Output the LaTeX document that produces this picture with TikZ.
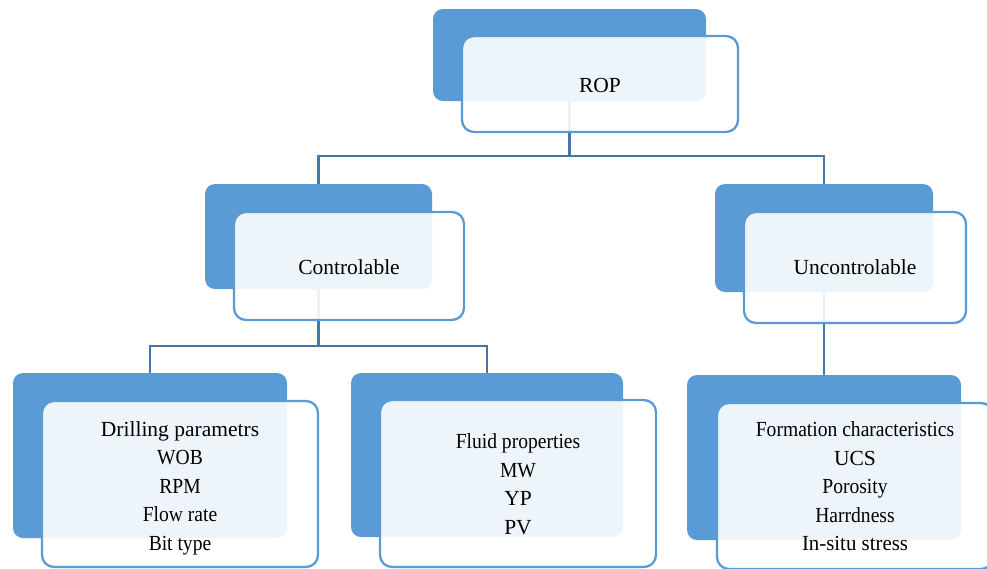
\documentclass[tikz,border=0pt]{standalone}
\usepackage{fontspec}
\setmainfont{Liberation Serif}
\definecolor{boxblue}{RGB}{91,155,213}
\definecolor{linkblue}{RGB}{68,118,168}
% slightly condensed lines for the list boxes
\newcommand{\narrowtxt}[1]{\scalebox{0.91}[1]{#1}}
\tikzset{
  backbox/.style={draw=none, fill=boxblue, rounded corners=10pt,
    inner sep=0pt, minimum width=#1},
  frontbox/.style={draw=boxblue, line width=2.3pt, fill=white, fill opacity=0.9,
    rounded corners=12pt, inner sep=0pt},
  boxtext/.style={inner sep=0pt, align=center,
    font=\fontsize{21.5}{28.5}\selectfont},
  link/.style={draw=linkblue, line width=2.8pt}
}
\begin{document}
\begin{tikzpicture}[x=1pt,y=-1pt]
  \useasboundingbox (0,0) rectangle (987,568);
  \clip (0,0) rectangle (987,568);
  \fill[white] (0,0) rectangle (987,568);

  % back (solid) panels
  \node[backbox=273pt, minimum height=92pt]  (ropb)   at (569.5,55)  {};
  \node[backbox=227pt, minimum height=105pt] (ctlb)   at (318.5,236.5) {};
  \node[backbox=218pt, minimum height=108pt] (unctlb) at (824,238)   {};
  \node[backbox=274pt, minimum height=165pt] (drilb)  at (150,455.5) {};
  \node[backbox=272pt, minimum height=164pt] (fluib)  at (487,455)   {};
  \node[backbox=274pt, minimum height=165pt] (formb)  at (824,457.5) {};

  % tree connectors
  \coordinate (j1) at (569.5,156);
  \coordinate (j2) at (318.5,346);
  \draw[link] (ropb.south) -- (j1) -| (ctlb.north);
  \draw[link] (j1) -| (unctlb.north);
  \draw[link] (ctlb.south) -- (j2) -| (drilb.north);
  \draw[link] (j2) -| (fluib.north);
  \draw[link] (unctlb.south) -- (formb.north);

  % front (translucent) panels
  \node[frontbox, minimum width=276pt, minimum height=96pt]  (rop)   at (600,84)    {};
  \node[frontbox, minimum width=230pt, minimum height=108pt] (ctl)   at (349,266)   {};
  \node[frontbox, minimum width=222pt, minimum height=111pt] (unctl) at (855,267.5) {};
  \node[frontbox, minimum width=276pt, minimum height=166pt] (dril)  at (180,484)   {};
  \node[frontbox, minimum width=276pt, minimum height=167pt] (flui)  at (518,483.5) {};
  \node[frontbox, minimum width=276pt, minimum height=166pt] (form)  at (855,486)   {};

  % labels
  \node[boxtext] (roptxt)   at ([yshift=-1pt]rop.center)   {ROP};
  \node[boxtext] (ctltxt)   at ([yshift=-1pt]ctl.center)   {Controlable};
  \node[boxtext] (unctltxt) at (unctl.center) {Uncontrolable};
  \node[boxtext] (driltxt)  at ([yshift=-4pt]dril.center)
    {Drilling parametrs\\\narrowtxt{WOB}\\\narrowtxt{RPM}\\\narrowtxt{Flow rate}\\\narrowtxt{Bit type}};
  \node[boxtext] (fluitxt)  at ([yshift=-0.5pt]flui.center)
    {\narrowtxt{Fluid properties}\\\narrowtxt{MW}\\YP\\PV};
  \node[boxtext] (formtxt)  at ([yshift=-0.5pt]form.center)
    {\narrowtxt{Formation characteristics}\\UCS\\\narrowtxt{Porosity}\\\narrowtxt{Harrdness}\\\scalebox{0.97}[1]{In-situ stress}};
\end{tikzpicture}
\end{document}
